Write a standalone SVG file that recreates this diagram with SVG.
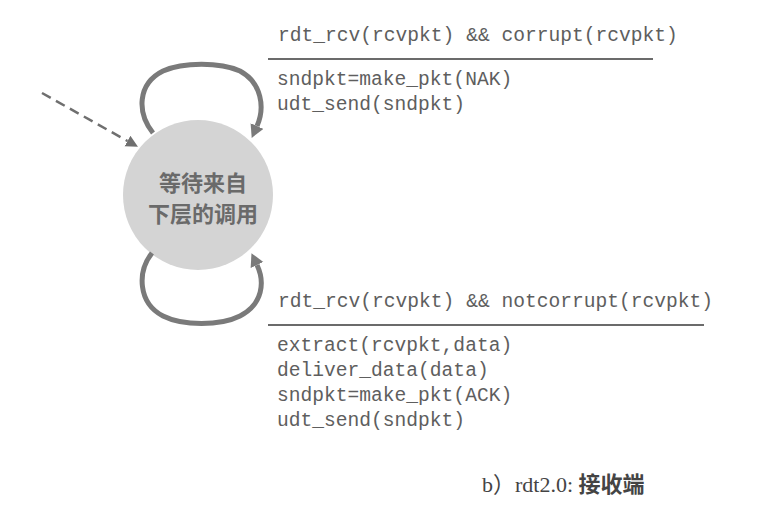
<svg xmlns="http://www.w3.org/2000/svg" width="781" height="507" viewBox="0 0 781 507">
  <style>
    .code { font-family: "Liberation Mono", "Courier New", monospace; font-size: 19.6px; fill: #5e5e5e; }
    .rule { stroke: #3a3a3a; stroke-width: 1.6; fill: none; }
    .loop { stroke: #7a7a7a; stroke-width: 5; fill: none; }
    .state-label { font-family: "Noto Sans CJK SC", "Noto Sans", sans-serif; font-size: 22px; font-weight: bold; fill: #6a6a6a; text-anchor: middle; }
    .caption { font-family: "Liberation Serif", "Noto Sans CJK SC", serif; font-size: 22px; fill: #444; }
  </style>
  <defs>
    <marker id="loopArrow" markerUnits="userSpaceOnUse" markerWidth="16" markerHeight="16" refX="0" refY="7" orient="auto">
      <path d="M0,0 L13,7 L0,14 z" fill="#7a7a7a"/>
    </marker>
    <marker id="dashArrow" markerUnits="userSpaceOnUse" markerWidth="14" markerHeight="14" refX="0" refY="6" orient="auto">
      <path d="M0,0 L12,6 L0,12 z" fill="#6f6f6f"/>
    </marker>
  </defs>
  <rect width="781" height="507" fill="#ffffff"/>

  <g id="state-wait">
    <circle cx="198" cy="195" r="75" fill="#d4d4d4"/>
    <text class="state-label" x="203" y="191">等待来自</text>
    <text class="state-label" x="203" y="222">下层的调用</text>
  </g>

  <g id="connectors">
    <path d="M42,93 L127.5,141" stroke="#6f6f6f" stroke-width="2.5" stroke-dasharray="10,6" fill="none" marker-end="url(#dashArrow)"/>
    <path class="loop" d="M153,133 C137,113 137,84 163,71 C183,62 220,62 240,71 C262,83 265,108 257,126" marker-end="url(#loopArrow)"/>
    <path class="loop" d="M152,253 C137,272 138,303 163,316 C183,326 220,326 240,316 C263,304 265,282 257,265" marker-end="url(#loopArrow)"/>
  </g>

  <g id="label-corrupt">
    <text class="code" x="278" y="41">rdt_rcv(rcvpkt) &amp;&amp; corrupt(rcvpkt)</text>
    <line class="rule" x1="268" y1="59" x2="653" y2="59"/>
    <text class="code" x="277" y="85">sndpkt=make_pkt(NAK)</text>
    <text class="code" x="277" y="110">udt_send(sndpkt)</text>
  </g>

  <g id="label-notcorrupt">
    <text class="code" x="278" y="307">rdt_rcv(rcvpkt) &amp;&amp; notcorrupt(rcvpkt)</text>
    <line class="rule" x1="268" y1="325" x2="704" y2="325"/>
    <text class="code" x="277" y="351">extract(rcvpkt,data)</text>
    <text class="code" x="277" y="376">deliver_data(data)</text>
    <text class="code" x="277" y="401">sndpkt=make_pkt(ACK)</text>
    <text class="code" x="277" y="426">udt_send(sndpkt)</text>
  </g>

  <g id="caption">
    <text class="caption" x="482" y="492">b）rdt2.0: <tspan font-weight="bold">接收端</tspan></text>
  </g>
</svg>
